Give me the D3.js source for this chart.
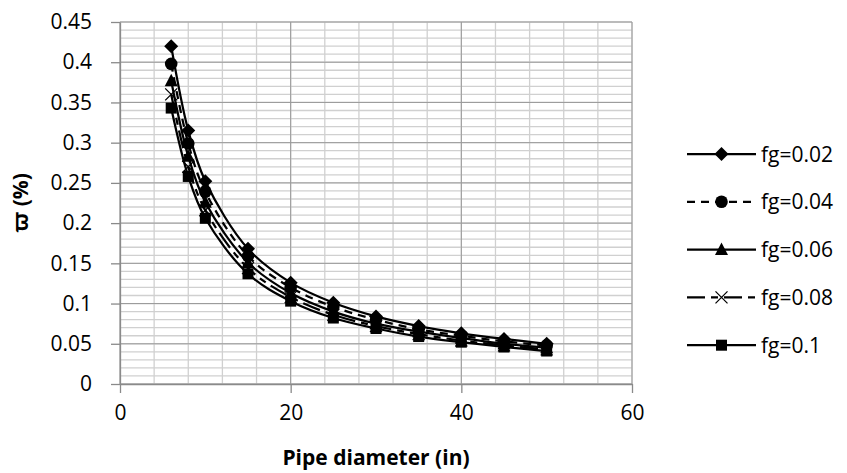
<!DOCTYPE html>
<html>
<head>
<meta charset="utf-8">
<script src="https://cdn.jsdelivr.net/npm/d3@7"></script>
<style>
  body { margin: 0; background: #fff; }
  text { font-family: "Open Sans", "Noto Sans", sans-serif; fill: #000; }
</style>
</head>
<body>
<svg id="chart" width="847" height="473"></svg>
<script>
const diameters = [6, 8, 10, 15, 20, 25, 30, 35, 40, 45, 50];
const fg002 = [0.420, 0.315, 0.252, 0.168, 0.126, 0.101, 0.084, 0.072, 0.063, 0.056, 0.050];
const fg004 = [0.398, 0.299, 0.239, 0.159, 0.120, 0.096, 0.080, 0.068, 0.060, 0.053, 0.048];
const fg006 = [0.377, 0.283, 0.226, 0.151, 0.113, 0.090, 0.075, 0.065, 0.057, 0.050, 0.045];
const fg008 = [0.360, 0.270, 0.216, 0.144, 0.108, 0.086, 0.072, 0.062, 0.054, 0.048, 0.043];
const fg010 = [0.343, 0.258, 0.206, 0.137, 0.103, 0.082, 0.069, 0.059, 0.052, 0.046, 0.041];
const seriesNames = ["fg=0.02", "fg=0.04", "fg=0.06", "fg=0.08", "fg=0.1"];
const xTicks = [0, 20, 40, 60];
const yTicks = [0, 0.05, 0.1, 0.15, 0.2, 0.25, 0.3, 0.35, 0.4, 0.45];

const series = [
  { name: seriesNames[0], values: fg002, marker: "diamond", dash: null },
  { name: seriesNames[1], values: fg004, marker: "circle", dash: "8,6" },
  { name: seriesNames[2], values: fg006, marker: "triangle", dash: null },
  { name: seriesNames[3], values: fg008, marker: "cross", dash: "18,6,7,6" },
  { name: seriesNames[4], values: fg010, marker: "square", dash: null }
];

const svg = d3.select("#chart");
const x = d3.scaleLinear([0, 60], [120, 632]);
const y = d3.scaleLinear([0, 0.45], [384, 22]);
const fontSize = "21px";

// grid: minor first, then major
const grid = svg.append("g");
d3.range(0, 60.01, 4).forEach(v => {
  grid.append("line").attr("x1", x(v)).attr("x2", x(v)).attr("y1", y(0)).attr("y2", y(0.45))
    .attr("stroke", "#d0d0d0").attr("stroke-width", 1.3);
});
d3.range(0, 0.4501, 0.01).forEach(v => {
  grid.append("line").attr("x1", x(0)).attr("x2", x(60)).attr("y1", y(v)).attr("y2", y(v))
    .attr("stroke", "#d0d0d0").attr("stroke-width", 1.3);
});
xTicks.forEach(v => {
  grid.append("line").attr("x1", x(v)).attr("x2", x(v)).attr("y1", y(0)).attr("y2", y(0.45))
    .attr("stroke", "#9a9a9a").attr("stroke-width", 1);
});
yTicks.forEach(v => {
  grid.append("line").attr("x1", x(0)).attr("x2", x(60)).attr("y1", y(v)).attr("y2", y(v))
    .attr("stroke", "#9a9a9a").attr("stroke-width", 1);
});

// axes
const xAxis = svg.append("g").attr("transform", `translate(0,${y(0)})`)
  .call(d3.axisBottom(x).tickValues(xTicks).tickSize(9).tickSizeOuter(0).tickFormat(d3.format("d")));
const yAxis = svg.append("g").attr("transform", `translate(${x(0)},0)`)
  .call(d3.axisLeft(y).tickValues(yTicks).tickSize(9).tickSizeOuter(0).tickFormat(d => d === 0 ? "0" : String(+d.toFixed(2))));
[xAxis, yAxis].forEach(a => {
  a.select(".domain").attr("stroke", "#8a8a8a").attr("stroke-width", 1.3);
  a.selectAll(".tick line").attr("stroke", "#8a8a8a").attr("stroke-width", 1.3);
  a.selectAll(".tick text").style("font-size", fontSize).style("font-family", "'Open Sans', sans-serif");
});
xAxis.selectAll(".tick text").attr("y", 36).attr("dy", "0");
yAxis.selectAll(".tick text").attr("x", -28);

// axis titles
svg.append("text").attr("x", x(30)).attr("y", 465).attr("text-anchor", "middle")
  .style("font-size", fontSize).style("font-weight", "bold").text("Pipe diameter (in)");
svg.append("text").attr("transform", `translate(28,${(y(0) + y(0.45)) / 2}) rotate(-90)`)
  .attr("text-anchor", "middle").style("font-size", fontSize).style("font-weight", "bold").text("ϖ (%)");

function drawMarker(g, type, cx, cy) {
  if (type === "diamond") {
    g.append("path").attr("d", `M${cx},${cy - 7}L${cx + 7},${cy}L${cx},${cy + 7}L${cx - 7},${cy}Z`);
  } else if (type === "circle") {
    g.append("circle").attr("cx", cx).attr("cy", cy).attr("r", 6.3);
  } else if (type === "triangle") {
    g.append("path").attr("d", `M${cx},${cy - 7}L${cx + 6.5},${cy + 5.5}L${cx - 6.5},${cy + 5.5}Z`);
  } else if (type === "cross") {
    g.append("path").attr("d", `M${cx - 6},${cy - 6}L${cx + 6},${cy + 6}M${cx - 6},${cy + 6}L${cx + 6},${cy - 6}`)
      .attr("stroke", "#000").attr("stroke-width", 1.3).attr("fill", "none");
  } else if (type === "square") {
    g.append("rect").attr("x", cx - 5.5).attr("y", cy - 5.5).attr("width", 11).attr("height", 11);
  }
}

const line = d3.line().x(d => x(d[0])).y(d => y(d[1])).curve(d3.curveCatmullRom.alpha(0.5));
const plot = svg.append("g");
series.forEach(s => {
  const pts = diameters.map((d, i) => [d, s.values[i]]);
  plot.append("path").datum(pts).attr("d", line).attr("fill", "none")
    .attr("stroke", "#000").attr("stroke-width", 2.25).attr("stroke-dasharray", s.dash);
  const mg = plot.append("g").attr("fill", "#000");
  pts.forEach(p => drawMarker(mg, s.marker, x(p[0]), y(p[1])));
});

// legend
const legend = svg.append("g");
series.forEach((s, i) => {
  const ly = 154 + i * 47.8;
  legend.append("line").attr("x1", 687).attr("x2", 756).attr("y1", ly).attr("y2", ly)
    .attr("stroke", "#000").attr("stroke-width", 2.25).attr("stroke-dasharray", s.dash);
  const mg = legend.append("g").attr("fill", "#000");
  drawMarker(mg, s.marker, 721.5, ly);
  legend.append("text").attr("x", 761).attr("y", ly).attr("dy", "0.36em")
    .style("font-size", fontSize).text(s.name);
});
</script>
</body>
</html>
